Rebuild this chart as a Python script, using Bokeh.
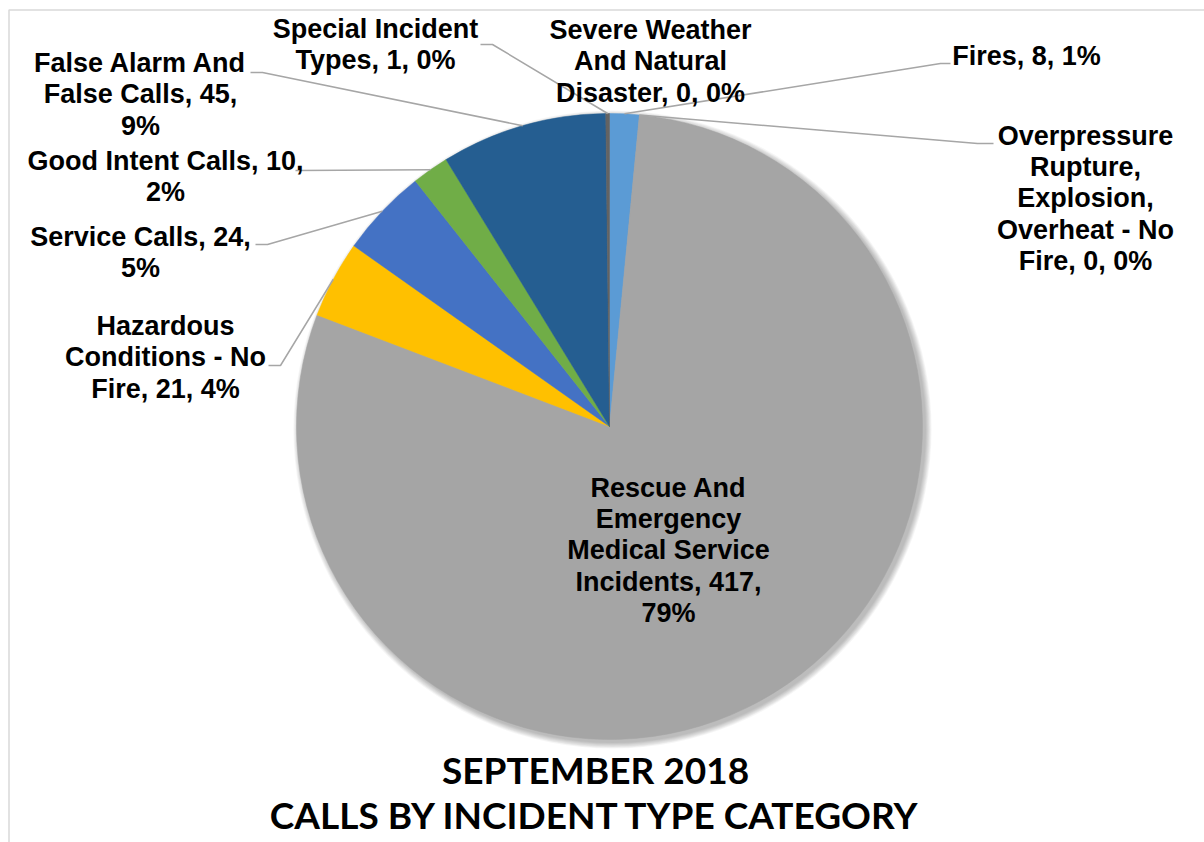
import math
import textwrap
from bokeh.plotting import figure
from bokeh.models import Range1d, ColumnDataSource
from bokeh.core.properties import value
from bokeh.embed import file_html
from bokeh.resources import INLINE

# ---------------- data ----------------
categories = [
    "Fires",
    "Overpressure Rupture, Explosion, Overheat - No Fire",
    "Rescue And Emergency Medical Service Incidents",
    "Hazardous Conditions - No Fire",
    "Service Calls",
    "Good Intent Calls",
    "False Alarm And False Calls",
    "Severe Weather And Natural Disaster",
    "Special Incident Types",
]
counts = [8, 0, 417, 21, 24, 10, 45, 0, 1]
percents = ["1%", "0%", "79%", "4%", "5%", "2%", "9%", "0%", "0%"]
title_lines = ["SEPTEMBER 2018", "CALLS BY INCIDENT TYPE CATEGORY"]

# ---------------- styles / layout ----------------
colors = ["#5B9BD5", "#ED7D31", "#A5A5A5", "#FFC000", "#4472C4",
          "#70AD47", "#255E91", "#9E480E", "#636363"]
wrap_widths = [20, 13, 16, 15, 18, 22, 16, 15, 16]
# label block centres in page pixels
label_centres = [(1026, 55), (1085, 198), (668, 550), (165, 357), (140, 252),
                 (165, 176), (140, 94), (650, 61), (375, 44)]
# leader start + elbow in page pixels (None = no leader)
leader_elbows = [((950, 63), (940, 63)), ((993, 143), (977, 143)), None,
                 ((268, 365), (280, 365)), ((255, 244), (267, 244)),
                 ((295, 170), (295, 170)), ((250, 72), (262, 72)), None,
                 ((480, 44), (492, 44))]

W, H = 1204, 842


def px(x):
    return x


def py(y):
    return H - y


CX, CY, R = px(609), py(426), 313

p = figure(width=W, height=H, x_range=Range1d(0, W), y_range=Range1d(0, H),
           output_backend="svg", toolbar_location=None,
           x_axis_location=None, y_axis_location=None, min_border=0,
           outline_line_color=None, background_fill_color="white",
           border_fill_color="white")
p.grid.visible = False

# chart frame (top and left edges visible)
p.line([px(8.5), px(8.5), W], [0, py(9.5), py(9.5)],
       line_color="#D9D9D9", line_width=1.5)

# soft shadow
for k in range(8):
    p.circle(x=CX + 3, y=CY - 3, radius=R + 0.5 + k * 0.8,
             fill_color="black", fill_alpha=0.035, line_color=None)

total = sum(counts)
starts, ends, cols, mids = [], [], [], []
cum = 0
for c, col in zip(counts, colors):
    a0 = math.pi / 2 - cum / total * 2 * math.pi
    cum += c
    a1 = math.pi / 2 - cum / total * 2 * math.pi
    mids.append((a0 + a1) / 2)
    if c > 0:
        starts.append(a0)
        ends.append(a1)
        cols.append(col)

src = ColumnDataSource(dict(start=starts, end=ends, color=cols))
p.wedge(x=CX, y=CY, radius=R, start_angle="start", end_angle="end",
        direction="clock", fill_color="color", line_color="color",
        line_width=0.5, source=src)

# leader lines
for mid, el in zip(mids, leader_elbows):
    if el is None:
        continue
    (x0, y0), (x1, y1) = el
    ex = CX + R * math.cos(mid)
    ey = CY + R * math.sin(mid)
    p.line([px(x0), px(x1), ex], [py(y0), py(y1), ey],
           line_color="#A6A6A6", line_width=1.5)

# data labels
labels = []
for cat, c, pc, w in zip(categories, counts, percents, wrap_widths):
    labels.append(textwrap.fill(f"{cat}, {c}, {pc}", width=w))
lsrc = ColumnDataSource(dict(x=[px(x) for x, _ in label_centres],
                             y=[py(y) for _, y in label_centres],
                             text=labels))
p.text(x="x", y="y", text="text", source=lsrc,
       text_font=value("Liberation Sans"), text_font_style="bold",
       text_font_size="27px", text_align="center", text_baseline="middle",
       text_line_height=1.04, text_color="#000000")

# title
p.text(x=[px(595), px(595)], y=[py(769), py(814)], text=title_lines,
       text_font=value("Lato"), text_font_style="bold",
       text_font_size="37px", text_align="center",
       text_baseline="middle", text_color="#000000")

open("out.html", "w").write(file_html(p, INLINE))
